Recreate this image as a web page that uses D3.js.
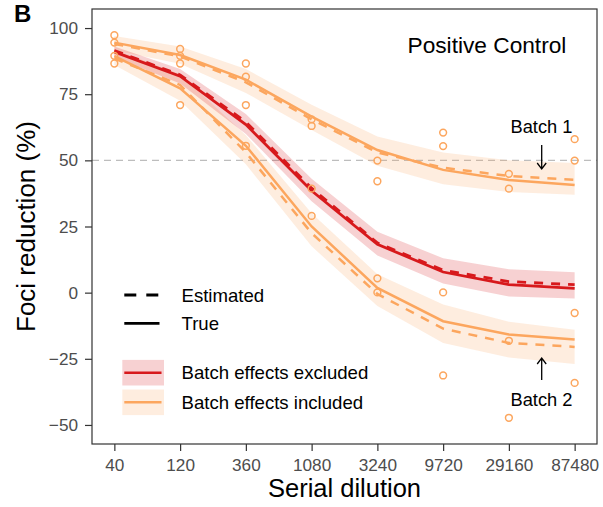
<!DOCTYPE html>
<html>
<head>
<meta charset="utf-8">
<script src="https://cdn.jsdelivr.net/npm/d3@7"></script>
<style>
	body { margin: 0; background: #fff; }
	svg text { font-family: "Liberation Sans", Arial, sans-serif; }
</style>
</head>
<body>
<div id="chart"></div>
<script>

const dilutions = ['40','120','360','1080','3240','9720','29160','87480'];
const yTicks = [-50,-25,0,25,50,75,100];

// observed replicates (batch 1 x2, batch 2 x2) at each dilution
const obsBatch1a = [97.3, 92.1, 86.6, 65.5, 49.9, 60.5, 44.9, 58.0];
const obsBatch1b = [94.5, 89.5, 81.6, 63.0, 42.1, 55.4, 39.3, 49.9];
const obsBatch2a = [89.5, 86.6, 70.9, 39.3, 5.4, 0.1, -18.2, -7.7];
const obsBatch2b = [86.6, 70.9, 55.5, 29.0, 0.1, -31.3, -47.3, -34.1];

// batch effects excluded
const exclTrue = [91.0, 81.8, 63.5, 38.5, 18.3, 7.8, 3.0, 1.6];
const exclEst  = [91.5, 82.3, 64.5, 39.5, 18.8, 8.5, 4.2, 3.0];
const exclLo   = [89.0, 79.0, 60.0, 34.5, 14.0, 3.5, -1.5, -2.2];
const exclHi   = [93.0, 84.5, 67.5, 43.0, 23.0, 13.0, 8.8, 7.7];

// batch effects included, batch 1
const b1True = [94.5, 89.8, 80.5, 66.5, 53.9, 46.4, 42.6, 40.7];
const b1Est  = [94.0, 89.3, 79.5, 65.5, 53.0, 47.2, 44.1, 42.6];
const b1Lo   = [91.5, 86.5, 75.5, 61.5, 48.0, 41.0, 38.0, 37.0];
const b1Hi   = [97.0, 93.0, 84.5, 71.0, 59.0, 53.0, 50.0, 49.0];

// batch effects included, batch 2
const b2True = [89.4, 77.2, 55.5, 25.0, 1.8, -10.8, -15.8, -17.7];
const b2Est  = [88.5, 78.5, 53.0, 22.5, -0.5, -13.6, -19.0, -20.5];
const b2Lo   = [86.0, 72.5, 48.5, 17.5, -5.0, -19.0, -24.5, -27.0];
const b2Hi   = [92.0, 82.5, 59.5, 30.0, 7.0, -4.5, -11.0, -14.0];

const red = '#d7191c';
const orange = '#fca65e';

const W = 603, H = 507;
const p = {l:92, r:597, t:9, b:444};

const svg = d3.select('#chart').append('svg')
	.attr('width', W)
	.attr('height', H);

const scaleX = d3.scaleLinear().domain([-0.34, 7.34]).range([p.l, p.r]);
const scaleY = d3.scaleLinear().domain([-57.2, 107.2]).range([p.b, p.t]);

////////////////////////////////////////////////////////////////////

svg.append('line')
	.attr('x1', p.l).attr('x2', p.r)
	.attr('y1', scaleY(50)).attr('y2', scaleY(50))
	.attr('stroke', '#bdbdbd')
	.attr('stroke-width', 1.1)
	.attr('stroke-dasharray', '7,5');

const plot = svg.append('g').attr('class', 'plot');

const area = (lo, hi) => d3.area()
	.x((d, i) => scaleX(i))
	.y0((d, i) => scaleY(lo[i]))
	.y1((d, i) => scaleY(hi[i]))(dilutions);

const line = vals => d3.line()
	.x((d, i) => scaleX(i))
	.y(d => scaleY(d))(vals);

const ribbons = [
	{lo: b1Lo, hi: b1Hi, c: orange},
	{lo: b2Lo, hi: b2Hi, c: orange},
	{lo: exclLo, hi: exclHi, c: red}
];
plot.selectAll('.ribbon')
	.data(ribbons)
	.enter()
	.append('path')
	.attr('class', 'ribbon')
	.attr('d', d => area(d.lo, d.hi))
	.attr('fill', d => d.c)
	.attr('fill-opacity', 0.2);

const lines = [
	{v: b1True, c: orange, dash: null},
	{v: b1Est, c: orange, dash: '9,8'},
	{v: b2True, c: orange, dash: null},
	{v: b2Est, c: orange, dash: '9,8'},
	{v: exclTrue, c: red, dash: null},
	{v: exclEst, c: red, dash: '9,8'}
];
plot.selectAll('.fit')
	.data(lines)
	.enter()
	.append('path')
	.attr('class', 'fit')
	.attr('d', d => line(d.v))
	.attr('fill', 'none')
	.attr('stroke', d => d.c)
	.attr('stroke-width', d => d.c === red ? 2.8 : 2.5)
	.attr('stroke-dasharray', d => d.dash);

const pts = [];
[obsBatch1a, obsBatch1b, obsBatch2a, obsBatch2b].forEach(arr => {
	arr.forEach((v, i) => pts.push({i: i, v: v}));
});
plot.selectAll('.circle')
	.data(pts)
	.enter()
	.append('circle')
	.attr('class', 'circle')
	.attr('cx', d => scaleX(d.i))
	.attr('cy', d => scaleY(d.v))
	.attr('r', 3.4)
	.attr('fill', 'none')
	.attr('stroke', orange)
	.attr('stroke-width', 1.5);

////////////////////////////////////////////////////////////////////

svg.append('rect')
	.attr('x', p.l).attr('y', p.t)
	.attr('width', p.r - p.l).attr('height', p.b - p.t)
	.attr('fill', 'none')
	.attr('stroke', '#333')
	.attr('stroke-width', 1.2);

const axisX = d3.axisBottom(scaleX)
	.tickValues(d3.range(dilutions.length))
	.tickFormat(i => dilutions[i])
	.tickSize(7)
	.tickPadding(8);
svg.append('g')
	.attr('class', 'axis axis-x')
	.attr('transform', `translate(0,${p.b})`)
	.call(axisX);

const axisY = d3.axisLeft(scaleY)
	.tickValues(yTicks)
	.tickSize(7)
	.tickPadding(7);
svg.append('g')
	.attr('class', 'axis axis-y')
	.attr('transform', `translate(${p.l},0)`)
	.call(axisY);

svg.selectAll('.axis .domain').remove();
svg.selectAll('.axis line').attr('stroke', '#333').attr('stroke-width', 1.2);
svg.selectAll('.axis text')
	.attr('fill', '#4d4d4d')
	.style('font-size', '17.2px')
	.style('font-family', '"Liberation Sans", Arial, sans-serif');

////////////////////////////////////////////////////////////////////

svg.append('text')
	.attr('x', (p.l + p.r) / 2)
	.attr('y', 497)
	.attr('text-anchor', 'middle')
	.style('font-size', '25.5px')
	.text('Serial dilution');

svg.append('text')
	.attr('transform', `translate(35,${(p.t + p.b) / 2}) rotate(-90)`)
	.attr('text-anchor', 'middle')
	.style('font-size', '26px')
	.text('Foci reduction (%)');

svg.append('text')
	.attr('x', 14).attr('y', 22)
	.style('font-size', '24px')
	.style('font-weight', 'bold')
	.text('B');

svg.append('text')
	.attr('x', 407.5).attr('y', 52.5)
	.style('font-size', '22.7px')
	.text('Positive Control');

// batch annotations
const notes = [
	{t: 'Batch 1', ty: 132.7, y1: 145, y2: 169},
	{t: 'Batch 2', ty: 405.7, y1: 380, y2: 358}
];
notes.forEach(n => {
	svg.append('text')
		.attr('x', 510.5).attr('y', n.ty)
		.style('font-size', '18.3px')
		.text(n.t);
	const ax = 541.7;
	const s = n.y2 > n.y1 ? -1 : 1;
	svg.append('path')
		.attr('d', `M${ax},${n.y1}L${ax},${n.y2}M${ax - 4.5},${n.y2 + s * 6}L${ax},${n.y2}L${ax + 4.5},${n.y2 + s * 6}`)
		.attr('fill', 'none')
		.attr('stroke', '#000')
		.attr('stroke-width', 1.3);
});

////////////////////////////////////////////////////////////////////
// legend

const legend = svg.append('g').attr('class', 'legend');
const lt = [
	{t: 'Estimated', y: 295, dash: '12,10'},
	{t: 'True', y: 323.3, dash: null}
];
lt.forEach(d => {
	legend.append('line')
		.attr('x1', 124.3).attr('x2', 159.5)
		.attr('y1', d.y).attr('y2', d.y)
		.attr('stroke', '#000')
		.attr('stroke-width', 2.8)
		.attr('stroke-dasharray', d.dash);
	legend.append('text')
		.attr('x', 181.5).attr('y', d.y)
		.attr('dy', '0.35em')
		.style('font-size', '18.6px')
		.text(d.t);
});

const lc = [
	{t: 'Batch effects excluded', y: 372.7, c: red},
	{t: 'Batch effects included', y: 402.3, c: orange}
];
lc.forEach(d => {
	legend.append('rect')
		.attr('x', 122.3).attr('y', d.y - 12.8)
		.attr('width', 41.7).attr('height', 25.6)
		.attr('fill', d.c)
		.attr('fill-opacity', 0.2);
	legend.append('line')
		.attr('x1', 124.3).attr('x2', 161.5)
		.attr('y1', d.y).attr('y2', d.y)
		.attr('stroke', d.c)
		.attr('stroke-width', 2.6);
	legend.append('text')
		.attr('x', 181.5).attr('y', d.y)
		.attr('dy', '0.35em')
		.style('font-size', '18.6px')
		.text(d.t);
});

</script>
</body>
</html>
